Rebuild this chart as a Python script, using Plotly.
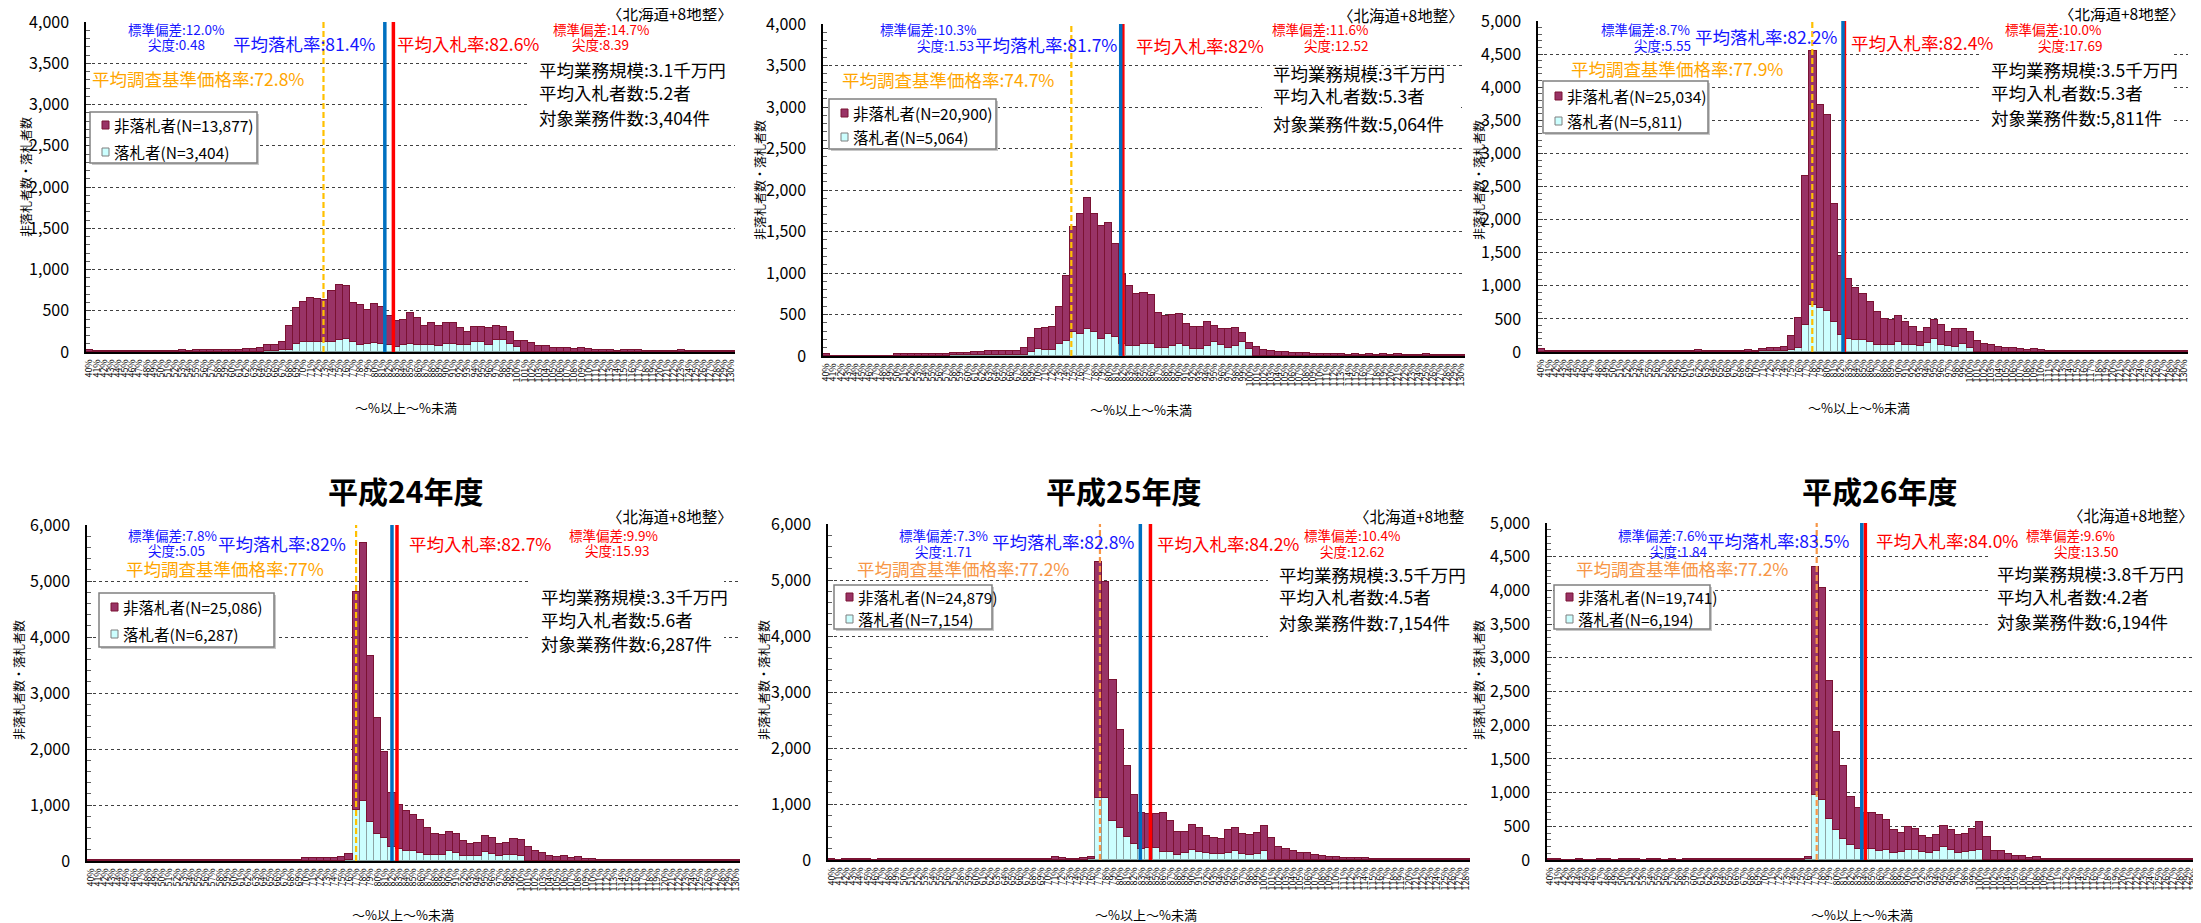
import plotly.graph_objects as go

W, H = 2201, 923
PAGE_MARGIN = 8  # default body margin of the html page

# 1% bins from 40% to 130%
bins = list(range(40, 131))
bin_labels = [f"{b}%" for b in bins]

# 落札者 (winners) and 非落札者 (non-winners) per bin
win_h21 = ([0] * 24 + [5, 10, 10, 28, 30, 100,
           125, 125, 125, 125, 125, 145, 160, 125, 90, 100,
           110, 100, 80, 55, 80, 100, 80, 80, 80, 70,
           100, 100, 88, 80, 125, 125, 88, 145, 140, 100,
           60] + [0] * 30)
lose_h21 = [28, 10, 10, 10, 12, 12, 12, 14, 12, 14,
            14, 14, 16, 20, 16, 28, 28, 28, 20, 24,
            28, 30, 32, 36, 43, 78, 80, 97, 280, 428,
            483, 535, 523, 503, 611, 671, 644, 475, 474, 408,
            470, 448, 356, 321, 308, 368, 328, 236, 268, 246,
            256, 248, 200, 168, 175, 175, 200, 175, 168, 148,
            68, 128, 108, 68, 76, 48, 48, 48, 36, 48,
            36, 28, 22, 22, 14, 22, 22, 22, 12, 12,
            12, 12, 12, 20, 14, 10, 10, 10, 10, 10,
            10]

win_h22 = ([0] * 18 + [10, 10,
           10, 10, 10, 10, 10, 10, 10, 10, 15, 50,
           80, 70, 70, 140, 180, 290, 265, 330, 285, 210,
           260, 235, 150, 125, 125, 150, 150, 95, 95, 115,
           150, 115, 90, 90, 115, 170, 135, 95, 115, 170,
           90] + [0] * 30)
lose_h22 = [25, 5, 5, 5, 5, 5, 5, 5, 5, 5,
            25, 22, 22, 22, 22, 30, 30, 30, 25, 30,
            30, 35, 40, 45, 45, 45, 45, 50, 78, 164,
            242, 273, 277, 456, 779, 1262, 1440, 1576, 1420, 1354,
            1344, 1115, 830, 713, 625, 608, 588, 429, 381, 381,
            358, 272, 257, 257, 300, 193, 187, 227, 228, 112,
            63, 105, 73, 60, 50, 45, 40, 40, 35, 30,
            30, 25, 20, 20, 15, 20, 15, 20, 10, 20,
            10, 20, 10, 10, 10, 20, 10, 10, 10, 10,
            10]

win_h23 = ([0] * 31 + [10, 15, 15, 20, 30, 60, 410, 715, 665,
           625, 450, 260, 200, 185, 175, 155, 105, 110, 110,
           150, 110, 100, 90, 130, 190, 110, 90, 80, 120,
           60] + [0] * 30)
lose_h23 = [45, 8, 8, 8, 8, 8, 8, 8, 15, 15,
            15, 20, 20, 15, 20, 15, 10, 15, 15, 15,
            15, 20, 25, 20, 20, 20, 20, 20, 20, 25,
            15, 40, 45, 40, 50, 210, 450, 2256, 3835, 3065,
            2955, 1790, 1190, 910, 775, 705, 605, 505, 390, 380,
            390, 350, 280, 210, 230, 290, 300, 210, 260, 220,
            240, 170, 120, 100, 80, 60, 60, 45, 30, 40,
            25, 15, 15, 10, 20, 20, 20, 10, 10, 10,
            10, 10, 10, 10, 10, 10, 10, 10, 10, 10,
            10]

win_h24 = ([0] * 36 + [10, 907, 1067, 688,
           480, 403, 255, 207, 184, 184, 136, 107, 107, 107,
           178, 136, 89, 89, 89, 154, 124, 95, 100, 107,
           95] + [0] * 30)
lose_h24 = [20, 10, 10, 10, 10, 10, 10, 10, 10, 10,
            10, 10, 10, 20, 10, 10, 10, 10, 10, 10,
            20, 20, 20, 10, 15, 15, 15, 20, 20, 25,
            60, 45, 45, 45, 55, 77, 109, 3893, 4603, 2977,
            2076, 1536, 961, 789, 706, 634, 605, 480, 367, 355,
            332, 338, 267, 213, 225, 291, 291, 201, 214, 284,
            279, 243, 184, 136, 95, 77, 95, 47, 77, 36,
            36, 25, 25, 20, 20, 20, 20, 15, 10, 15,
            15, 10, 10, 10, 10, 10, 10, 10, 10, 10,
            10]

win_h25 = ([0] * 36 + [10, 1110, 1100, 698,
           567, 406, 287, 197, 221, 221, 137, 137, 90, 119,
           179, 149, 119, 107, 101, 131, 161, 101, 90, 101,
           161] + [0] * 30)
lose_h25 = [15, 0, 10, 10, 10, 10, 0, 10, 10, 10,
            10, 10, 10, 10, 10, 10, 10, 10, 10, 10,
            10, 10, 10, 10, 10, 10, 10, 10, 10, 10,
            10, 48, 30, 20, 20, 30, 50, 4215, 3867, 2514,
            1761, 1266, 877, 651, 603, 597, 699, 561, 405, 376,
            448, 418, 311, 293, 275, 406, 406, 359, 358, 377,
            448, 388, 227, 197, 167, 119, 119, 90, 72, 60,
            48, 40, 40, 35, 30, 25, 20, 15, 10, 10,
            10, 10, 10, 10, 10, 10, 10, 10, 10, 10,
            10]

win_h26 = ([0] * 36 + [10, 965, 890, 615,
           450, 310, 225, 165, 170, 160, 140, 150, 110, 120,
           150, 150, 120, 110, 140, 200, 150, 110, 120, 130,
           150] + [0] * 30)
lose_h26 = [10, 10, 0, 0, 10, 0, 0, 10, 10, 0,
            10, 10, 10, 0, 10, 10, 0, 10, 0, 10,
            10, 10, 10, 10, 10, 10, 10, 10, 10, 10,
            10, 10, 10, 10, 10, 20, 40, 3385, 3140, 2045,
            1450, 1080, 710, 600, 530, 530, 525, 450, 330, 280,
            340, 315, 230, 215, 235, 300, 290, 265, 265, 330,
            415, 335, 140, 140, 85, 65, 60, 35, 40, 15,
            20, 10, 10, 10, 10, 10, 10, 10, 10, 10,
            10, 10, 10, 10, 10, 10, 10, 10, 10, 10,
            10]

wins = [win_h21, win_h22, win_h23, win_h24, win_h25, win_h26]
loses = [lose_h21, lose_h22, lose_h23, lose_h24, lose_h25, lose_h26]

titles = [None, None, None, "平成24年度", "平成25年度", "平成26年度"]
avg_win = [81.4, 81.7, 82.2, 82.0, 82.8, 83.5]
avg_win_txt = ["81.4%", "81.7%", "82.2%", "82%", "82.8%", "83.5%"]
avg_bid = [82.6, 82.0, 82.4, 82.7, 84.2, 84.0]
avg_bid_txt = ["82.6%", "82%", "82.4%", "82.7%", "84.2%", "84.0%"]
base_rate = [72.8, 74.7, 77.9, 77.0, 77.2, 77.2]
base_rate_txt = ["72.8%", "74.7%", "77.9%", "77%", "77.2%", "77.2%"]
sd_win = ["12.0%", "10.3%", "8.7%", "7.8%", "7.3%", "7.6%"]
kurt_win = ["0.48", "1.53", "5.55", "5.05", "1.71", "1.84"]
sd_bid = ["14.7%", "11.6%", "10.0%", "9.9%", "10.4%", "9.6%"]
kurt_bid = ["8.39", "12.52", "17.69", "15.93", "12.62", "13.50"]
avg_scale = ["3.1", "3", "3.5", "3.3", "3.5", "3.8"]
avg_bidders = ["5.2", "5.3", "5.3", "5.6", "4.5", "4.2"]
n_cases = ["3,404", "5,064", "5,811", "6,287", "7,154", "6,194"]
n_lose = ["13,877", "20,900", "25,034", "25,086", "24,879", "19,741"]
n_win = ["3,404", "5,064", "5,811", "6,287", "7,154", "6,194"]
region = ["〈北海道+8地整〉"] * 4 + ["〈北海道+8地整", "〈北海道+8地整〉"]

# panel geometry in screen pixels
panels = [
    dict(x0=86, x1=735, top=22, base=352, ymax=4000, dtick=500, minor=100, xmax=130.5),
    dict(x0=823, x1=1465, top=24, base=356, ymax=4000, dtick=500, minor=100, xmax=130.5),
    dict(x0=1538, x1=2188, top=21, base=352, ymax=5000, dtick=500, minor=100, xmax=130.5),
    dict(x0=87, x1=740, top=525, base=861, ymax=6000, dtick=1000, minor=200, xmax=130.5),
    dict(x0=828, x1=1470, top=524, base=860, ymax=6000, dtick=1000, minor=200, xmax=128.5),
    dict(x0=1547, x1=2198, top=523, base=860, ymax=5000, dtick=500, minor=100, xmax=130.5),
]

# text placement per panel (screen pixels)
spots = [
    dict(sdw=(176, 29), kw=(176, 44), avgw=(304, 43), base=(198, 78), avgb=(468, 43),
         sdb=(601, 29), kb=(600, 44), info_x=538, info_y=(70, 92, 117), box=(528, 56, 736, 130),
         leg=(90, 112, 257, 163), leg_y=(125, 152), ytitle=(26, 177), xtitle=(406, 407),
         region=(734, 13), title=None),
    dict(sdw=(928, 29), kw=(945, 45), avgw=(1046, 44), base=(948, 80), avgb=(1200, 45),
         sdb=(1320, 29), kb=(1336, 45), info_x=1272, info_y=(73, 96, 123), box=(1262, 70, 1461, 135),
         leg=(829, 99, 996, 149), leg_y=(113, 137), ytitle=(759, 180), xtitle=(1141, 410),
         region=(1465, 15), title=None),
    dict(sdw=(1645, 29), kw=(1662, 45), avgw=(1766, 37), base=(1677, 69), avgb=(1922, 42),
         sdb=(2053, 29), kb=(2070, 45), info_x=1990, info_y=(70, 92, 117), box=(1981, 48, 2174, 128),
         leg=(1543, 81, 1708, 133), leg_y=(96, 121), ytitle=(1478, 180), xtitle=(1859, 407),
         region=(2186, 13), title=None),
    dict(sdw=(172, 535), kw=(176, 550), avgw=(282, 543), base=(225, 568), avgb=(480, 543),
         sdb=(613, 535), kb=(617, 550), info_x=540, info_y=(596, 619, 643), box=(531, 572, 724, 652),
         leg=(99, 593, 274, 647), leg_y=(607, 634), ytitle=(18, 680), xtitle=(403, 914),
         region=(734, 516), title=(405, 490)),
    dict(sdw=(943, 535), kw=(943, 551), avgw=(1063, 541), base=(963, 568), avgb=(1228, 543),
         sdb=(1352, 535), kb=(1352, 551), info_x=1278, info_y=(574, 596, 622), box=(1268, 565, 1470, 645),
         leg=(834, 585, 992, 629), leg_y=(597, 619), ytitle=(763, 680), xtitle=(1146, 914),
         region=(1466, 516), title=(1123, 490)),
    dict(sdw=(1662, 535), kw=(1678, 551), avgw=(1778, 540), base=(1682, 568), avgb=(1947, 540),
         sdb=(2070, 535), kb=(2086, 551), info_x=1996, info_y=(573, 596, 621), box=(1988, 550, 2201, 630),
         leg=(1554, 585, 1710, 629), leg_y=(597, 619), ytitle=(1478, 680), xtitle=(1862, 914),
         region=(2195, 515), title=(1879, 490)),
]

JP = "Noto Sans CJK JP"
MAROON, MAROON_EDGE = "#993366", "#7A1232"
CYAN, CYAN_EDGE = "#CCFFFF", "#8CA5A5"
BLUE_TXT, RED_TXT = "#1515FF", "#FF0000"
orange_txt = ["#FFA500"] * 4 + ["#F79646"] * 2
orange_line = ["#FFC000"] * 4 + ["#F79646"] * 2


def X(p):
    return (p - PAGE_MARGIN) / W


def Y(p):
    return 1 - (p - PAGE_MARGIN) / H


fig = go.Figure()


def text(x, y, s, size, color="#000000", anchor="center", **kw):
    fig.add_annotation(x=X(x), y=Y(y), xref="paper", yref="paper", text=s, showarrow=False,
                       xanchor=anchor, yanchor="middle", borderpad=0,
                       font=dict(size=size, color=color, family=JP), **kw)


def rect(x0, y0, x1, y1, fill, line=None, width=0):
    fig.add_shape(type="rect", xref="paper", yref="paper", x0=X(x0), x1=X(x1), y0=Y(y1), y1=Y(y0),
                  fillcolor=fill, line=dict(color=line or fill, width=width), layer="above")


for k, (p, s) in enumerate(zip(panels, spots), start=1):
    sfx = "" if k == 1 else str(k)
    xa, ya = "x" + sfx, "y" + sfx
    fig.add_trace(go.Bar(x=bins, y=wins[k - 1], xaxis=xa, yaxis=ya, width=1, showlegend=False,
                         marker=dict(color=CYAN, line=dict(color=CYAN_EDGE, width=1))))
    fig.add_trace(go.Bar(x=bins, y=loses[k - 1], xaxis=xa, yaxis=ya, width=1, showlegend=False,
                         marker=dict(color=MAROON, line=dict(color=MAROON_EDGE, width=1))))

    fig.update_layout(**{
        "xaxis" + sfx: dict(domain=[X(p["x0"]), X(p["x1"])], anchor=ya, range=[39.5, p["xmax"]],
                            tickmode="array", tickvals=bins, ticktext=bin_labels, tickangle=-90,
                            tickfont=dict(size=9, family=JP, color="#000"), showgrid=False,
                            showline=True, linecolor="#000", linewidth=1.5, ticks="",
                            ticklabelstandoff=2, ticklabeloverflow="allow",
                            automargin=False, zeroline=False),
        "yaxis" + sfx: dict(domain=[Y(p["base"]), Y(p["top"])], anchor=xa, range=[0, p["ymax"]],
                            tickmode="array", tickvals=list(range(0, p["ymax"] + 1, p["dtick"])),
                            tickformat=",d", showgrid=True, gridcolor="#404040",
                            griddash="3px,3px", gridwidth=1, showline=True, linecolor="#000",
                            linewidth=1.5, ticks="inside", ticklen=5, tickcolor="#404040",
                            minor=dict(dtick=p["minor"], ticks="inside", ticklen=4, tickcolor="#606060",
                                       showgrid=False),
                            tickfont=dict(size=16, family=JP, color="#000"), ticklabelstandoff=12,
                            ticklabeloverflow="allow", automargin=False, zeroline=False),
    })

    # average lines
    fig.add_shape(type="line", xref=xa, yref=ya + " domain", x0=base_rate[k - 1], x1=base_rate[k - 1],
                  y0=0, y1=1, line=dict(color=orange_line[k - 1], width=2.2, dash="6px,3px"))
    fig.add_shape(type="line", xref=xa, yref=ya + " domain", x0=avg_bid[k - 1], x1=avg_bid[k - 1],
                  y0=0, y1=1, line=dict(color="#FF0000", width=3.5))
    fig.add_shape(type="line", xref=xa, yref=ya + " domain", x0=avg_win[k - 1], x1=avg_win[k - 1],
                  y0=0, y1=1, line=dict(color="#0070C0", width=3.5))

    # info block with white background
    rect(*s["box"], "#FFFFFF")
    text(s["info_x"], s["info_y"][0], f"平均業務規模:{avg_scale[k - 1]}千万円", 17.5, anchor="left")
    text(s["info_x"], s["info_y"][1], f"平均入札者数:{avg_bidders[k - 1]}者", 17.5, anchor="left")
    text(s["info_x"], s["info_y"][2], f"対象業務件数:{n_cases[k - 1]}件", 17.5, anchor="left")

    # stats
    text(*s["sdw"], f"標準偏差:{sd_win[k - 1]}", 13.5, BLUE_TXT)
    text(*s["kw"], f"尖度:{kurt_win[k - 1]}", 13.5, BLUE_TXT)
    text(*s["avgw"], f"平均落札率:{avg_win_txt[k - 1]}", 17.5, BLUE_TXT)
    text(*s["avgb"], f"平均入札率:{avg_bid_txt[k - 1]}", 17.5, RED_TXT)
    text(*s["sdb"], f"標準偏差:{sd_bid[k - 1]}", 13.5, RED_TXT)
    text(*s["kb"], f"尖度:{kurt_bid[k - 1]}", 13.5, RED_TXT)
    text(*s["base"], f"平均調査基準価格率:{base_rate_txt[k - 1]}", 17.5, orange_txt[k - 1])

    # legend box
    lx0, ly0, lx1, ly1 = s["leg"]
    rect(lx0 + 2, ly0 + 2, lx1 + 2, ly1 + 2, "#C8C8C8")
    rect(lx0, ly0, lx1, ly1, "#FFFFFF", "#808080", 1.5)
    y1, y2 = s["leg_y"]
    rect(lx0 + 12, y1 - 4, lx0 + 19, y1 + 4, MAROON, MAROON_EDGE, 1)
    rect(lx0 + 12, y2 - 4, lx0 + 19, y2 + 4, CYAN, "#7F7F7F", 1)
    text(lx0 + 23, y1, f"非落札者(N={n_lose[k - 1]})", 15.5, anchor="left")
    text(lx0 + 23, y2, f"落札者(N={n_win[k - 1]})", 15.5, anchor="left")

    # axis titles, region label, year title
    text(*s["ytitle"], "非落札者数・落札者数", 12, textangle=-90)
    text(*s["xtitle"], "～%以上～%未満", 13)
    text(s["region"][0], s["region"][1], region[k - 1], 15.5, anchor="right")
    if titles[k - 1]:
        fig.add_annotation(x=X(s["title"][0]), y=Y(s["title"][1]), xref="paper", yref="paper",
                           text=f"<b>{titles[k - 1]}</b>", showarrow=False, xanchor="center",
                           yanchor="middle", font=dict(size=30, color="#000", family=JP))

fig.update_layout(
    width=W, height=H, margin=dict(l=0, r=0, t=0, b=0),
    barmode="stack", bargap=0,
    plot_bgcolor="#FFFFFF", paper_bgcolor="#FFFFFF",
    font=dict(family=JP, color="#000"),
)

fig.write_html("out.html")
